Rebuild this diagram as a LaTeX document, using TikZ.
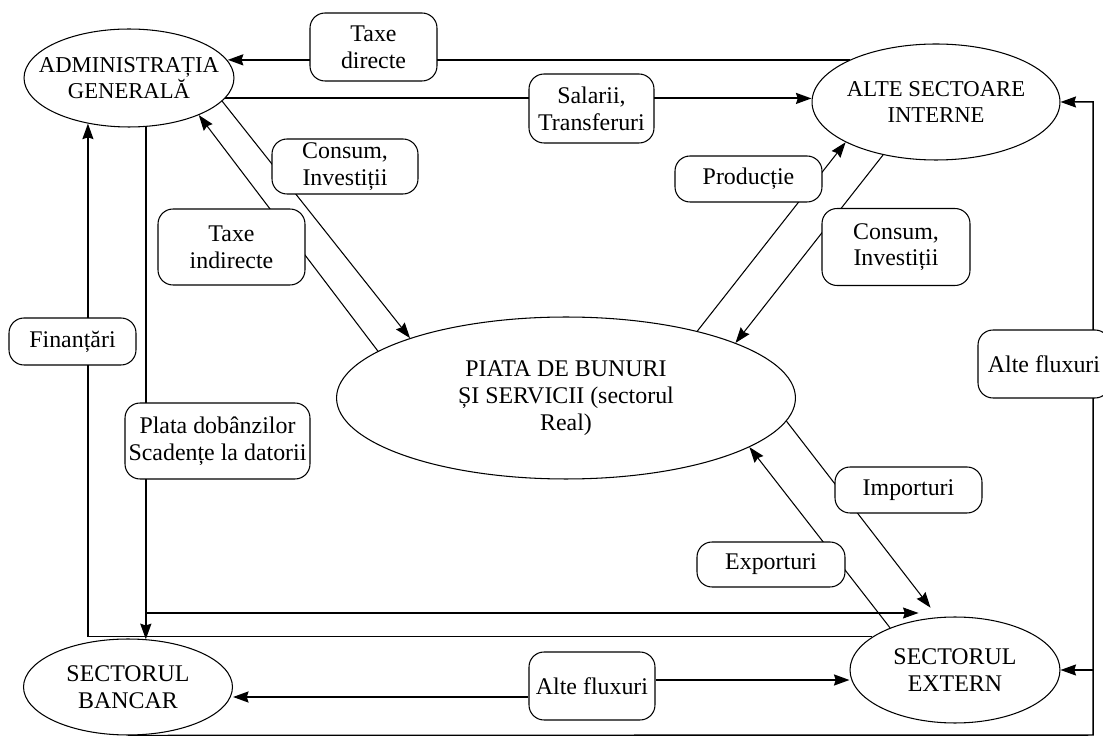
\documentclass[tikz,border=0pt]{standalone}
\usepackage{fontspec}
\setmainfont{Liberation Serif}
\usetikzlibrary{shapes.geometric,arrows.meta}
\begin{document}
\begin{tikzpicture}[x=0.02cm,y=-0.02cm,
  font=\fontsize{13.6}{15.2}\selectfont,
  sector/.style={draw, ellipse, inner xsep=-1.8cm, inner ysep=0pt, align=center, line width=0.6pt},
  smallcaps/.style={font=\fontsize{12.9}{14.6}\selectfont},
  flowlabel/.style={draw, fill=white, rounded corners=0.3cm, inner sep=0pt, align=center, line width=0.6pt},
  thinflow/.style={line width=0.6pt},
  midflow/.style={line width=0.85pt},
  thickflow/.style={line width=1.1pt},
  arr/.style={-{Stealth[length=0.31cm,width=0.22cm,inset=0.035cm]}}
]
\clip (0,0) rectangle (1103,736);

% sectors of the economy
\node[sector, smallcaps, minimum width=4.2cm, minimum height=1.96cm] (adm) at (129,78) {ADMINISTRAȚIA\\GENERALĂ};
\node[sector, smallcaps, minimum width=4.96cm, minimum height=2.32cm] (alte) at (936,102) {ALTE SECTOARE\\INTERNE};
\node[sector, minimum width=9.18cm, minimum height=3.24cm] (piata) at (566,398) {PIATA DE BUNURI\\ȘI SERVICII (sectorul\\Real)};
\node[sector, minimum width=4.18cm, minimum height=1.92cm] (banc) at (128,687) {SECTORUL\\BANCAR};
\node[sector, minimum width=4.2cm, minimum height=2.12cm] (ext) at (955,670) {SECTORUL\\EXTERN};

% flows between sectors (labels are laid over them afterwards)
\draw[thickflow, arr] (alte.154) -- (alte.154 -| adm.10);
\draw[thickflow, arr] (adm.-12) -- (adm.-12 -| alte.west);
\draw[thinflow, arr] (adm.-14) -- (piata.159);
\draw[thinflow, arr] (piata.166) -- (adm.-28);
\draw[midflow, arr] (ext.158) -- (ext.158 -| adm.-132) -- (adm.-132);
\draw[thickflow, arr] (adm.-71) -- (adm.-71 |- banc.69);
\coordinate (dob) at (146,613);
\draw[thinflow, arr] (dob) -- (dob -| ext.126);
\draw[thinflow, arr] (piata.27) -- (alte.204);
\draw[thinflow, arr] (alte.225) -- (piata.18);
\draw[thinflow, arr, shorten >=0.24cm] (piata.-6) -- (ext.108);
\draw[thinflow, arr] (ext.147) -- (piata.-15);
\coordinate (rb) at (1093,735);
\draw[midflow, arr] (banc.south) -- (rb) -- (rb |- alte.east) -- (alte.east);
\draw[midflow, arr] (rb |- ext.east) -- (ext.east);

% flow labels
\node[flowlabel, minimum width=2.54cm, minimum height=1.36cm] (tdir) at (373.5,47) {Taxe\\directe};
\node[flowlabel, minimum width=2.5cm, minimum height=1.38cm] (sal) at (591.5,108.5) {Salarii,\\Transferuri};
\node[flowlabel, minimum width=2.92cm, minimum height=1.1cm] (cons1) at (345,166.5) {Consum,\\Investiții};
\node[flowlabel, minimum width=2.94cm, minimum height=1.52cm] (tind) at (231.5,247) {Taxe\\indirecte};
\node[flowlabel, minimum width=2.54cm, minimum height=0.94cm] (fin) at (72.5,341.5) {Finanțări};
\node[flowlabel, minimum width=3.7cm, minimum height=1.52cm] (plata) at (217.5,441) {Plata dobânzilor\\Scadențe la datorii};
\node[flowlabel, minimum width=2.94cm, minimum height=0.92cm] (prod) at (748.5,179) {Producție};
\node[flowlabel, minimum width=2.96cm, minimum height=1.54cm] (cons2) at (896,247) {Consum,\\Investiții};
\node[flowlabel, minimum width=2.64cm, minimum height=1.36cm] (afr) at (1044,364) {Alte fluxuri};
\node[flowlabel, minimum width=2.94cm, minimum height=0.92cm] (imp) at (908.5,490) {Importuri};
\node[flowlabel, minimum width=2.96cm, minimum height=0.9cm] (exp) at (771,564.5) {Exporturi};
\node[flowlabel, minimum width=2.52cm, minimum height=1.36cm] (afb) at (592,686) {Alte fluxuri};

% flows leaving the lower label
\draw[thickflow, arr] ([yshift=-0.22cm]afb.west) -- ([yshift=-0.22cm]afb.west -| banc.east);
\draw[thickflow, arr] ([yshift=0.12cm]afb.east) -- ([yshift=0.12cm]afb.east -| ext.west);
\end{tikzpicture}
\end{document}
